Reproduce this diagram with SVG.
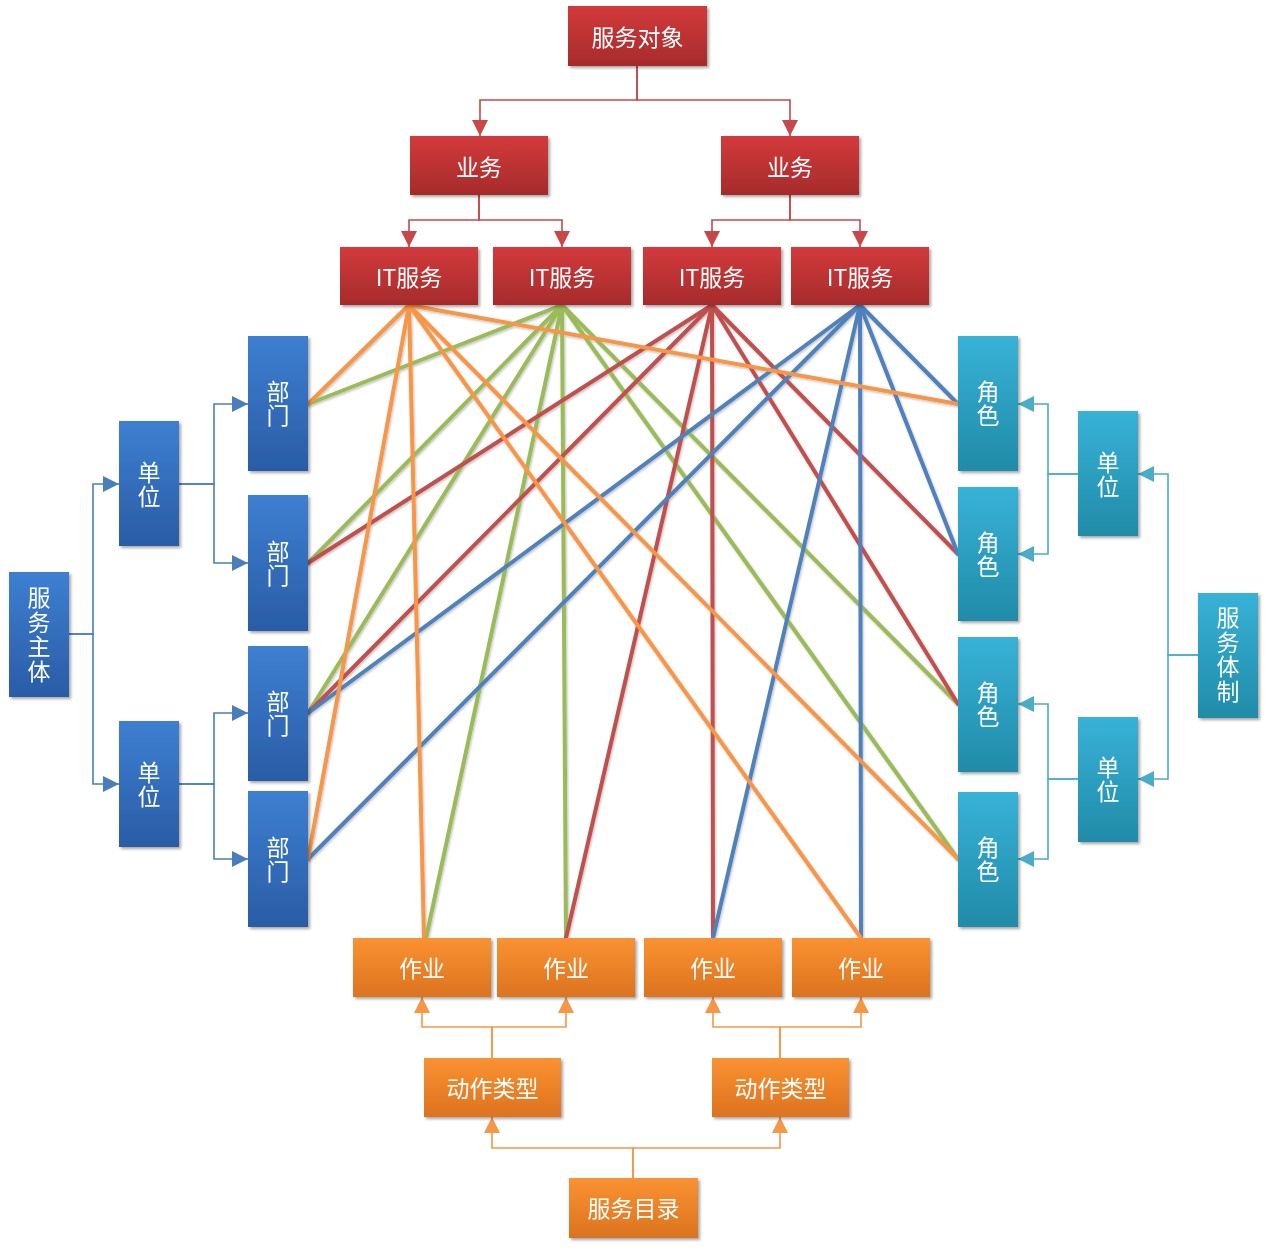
<svg xmlns="http://www.w3.org/2000/svg" width="1267" height="1249" viewBox="0 0 1267 1249">
<style>
.t{font-family:"Noto Sans CJK SC","Liberation Sans",sans-serif;font-size:23px;fill:#fff;text-anchor:middle;dominant-baseline:central}
.v{writing-mode:vertical-rl;text-orientation:upright;letter-spacing:1.5px}
.cr{fill:none;stroke:#c8484a;stroke-width:1.6}
.cb{fill:none;stroke:#4a7ebb;stroke-width:1.6}
.ct{fill:none;stroke:#4bacc6;stroke-width:1.6}
.co{fill:none;stroke:#f79646;stroke-width:1.6}
.x{stroke-width:4;stroke-linecap:round;fill:none}
.xo{stroke:#f79646}.xg{stroke:#9bbb59}.xr{stroke:#c0504d}.xb{stroke:#4f81bd}
.red{fill:url(#gR)}.blue{fill:url(#gB)}.teal{fill:url(#gT)}.orng{fill:url(#gO)}
</style>
<defs>
<linearGradient id="gR" x1="0" y1="0" x2="0" y2="1"><stop offset="0" stop-color="#d33a3c"/><stop offset="1" stop-color="#a62b2b"/></linearGradient>
<linearGradient id="gB" x1="0" y1="0" x2="0" y2="1"><stop offset="0" stop-color="#3d7fd1"/><stop offset="1" stop-color="#2a5ca6"/></linearGradient>
<linearGradient id="gT" x1="0" y1="0" x2="0" y2="1"><stop offset="0" stop-color="#37b2d7"/><stop offset="1" stop-color="#218ba8"/></linearGradient>
<linearGradient id="gO" x1="0" y1="0" x2="0" y2="1"><stop offset="0" stop-color="#fa9232"/><stop offset="1" stop-color="#dc731f"/></linearGradient>
<filter id="sh" x="-10%" y="-10%" width="130%" height="130%"><feDropShadow dx="2" dy="2" stdDeviation="1.5" flood-color="#000" flood-opacity="0.35"/></filter>
<filter id="ls" x="-5%" y="-5%" width="110%" height="110%"><feDropShadow dx="1" dy="1.5" stdDeviation="1" flood-color="#000" flood-opacity="0.25"/></filter>
<marker id="aR" viewBox="0 0 10 10" refX="10" refY="5" markerWidth="16" markerHeight="16" markerUnits="userSpaceOnUse" orient="auto"><path d="M0,0L10,5L0,10z" fill="#c8484a"/></marker>
<marker id="aB" viewBox="0 0 10 10" refX="10" refY="5" markerWidth="16" markerHeight="16" markerUnits="userSpaceOnUse" orient="auto"><path d="M0,0L10,5L0,10z" fill="#4a7ebb"/></marker>
<marker id="aT" viewBox="0 0 10 10" refX="10" refY="5" markerWidth="16" markerHeight="16" markerUnits="userSpaceOnUse" orient="auto"><path d="M0,0L10,5L0,10z" fill="#4bacc6"/></marker>
<marker id="aO" viewBox="0 0 10 10" refX="10" refY="5" markerWidth="16" markerHeight="16" markerUnits="userSpaceOnUse" orient="auto"><path d="M0,0L10,5L0,10z" fill="#f79646"/></marker>
</defs>
<rect width="1267" height="1249" fill="#fff"/>
<g id="connectors">
<g marker-end="url(#aR)">
<path class="cr" d="M637,66V100H480V136"/><path class="cr" d="M637,66V100H790V136"/>
<path class="cr" d="M479,195V220H409V247"/><path class="cr" d="M479,195V220H562V247"/>
<path class="cr" d="M790,195V220H712V247"/><path class="cr" d="M790,195V220H860V247"/>
</g>
<g marker-end="url(#aB)">
<path class="cb" d="M69,634H93V484H119"/><path class="cb" d="M69,634H93V784H119"/>
<path class="cb" d="M179,484H214V404H248"/><path class="cb" d="M179,484H214V563H248"/>
<path class="cb" d="M179,784H214V713H248"/><path class="cb" d="M179,784H214V859H248"/>
</g>
<g marker-end="url(#aT)">
<path class="ct" d="M1198,655H1168V474H1138"/><path class="ct" d="M1198,655H1168V779H1138"/>
<path class="ct" d="M1078,474H1048V404H1018"/><path class="ct" d="M1078,474H1048V554H1018"/>
<path class="ct" d="M1078,779H1048V704H1018"/><path class="ct" d="M1078,779H1048V859H1018"/>
</g>
<g marker-end="url(#aO)">
<path class="co" d="M633,1178V1148H492V1117"/><path class="co" d="M633,1178V1148H780V1117"/>
<path class="co" d="M492,1058V1027H422V997"/><path class="co" d="M492,1058V1027H566V997"/>
<path class="co" d="M780,1058V1027H713V997"/><path class="co" d="M780,1058V1027H861V997"/>
</g>
<g filter="url(#ls)">
<g class="x xg">
<path d="M562,305L308,404"/><path d="M562,305L308,563"/><path d="M562,305L308,713"/>
<path d="M562,305L426,938"/><path d="M562,305L566,938"/><path d="M562,305L958,704"/><path d="M562,305L958,859"/>
</g>
<g class="x xr">
<path d="M712,305L308,563"/><path d="M712,305L308,713"/><path d="M712,305L566,938"/>
<path d="M712,305L713,938"/><path d="M712,305L958,554"/><path d="M712,305L958,704"/>
</g>
<g class="x xb">
<path d="M860,305L308,713"/><path d="M860,305L308,859"/><path d="M860,305L713,938"/>
<path d="M860,305L861,938"/><path d="M860,305L958,404"/><path d="M860,305L958,554"/>
</g>
<g class="x xo">
<path d="M409,305L308,404"/><path d="M409,305L308,859"/><path d="M409,305L424,938"/>
<path d="M409,305L861,938"/><path d="M409,305L958,859"/><path d="M409,305L958,404"/>
</g>
</g>
</g>
<g id="n-fwdx" filter="url(#sh)"><rect class="red" x="568" y="6" width="139" height="60"/><text class="t" x="637.5" y="36">服务对象</text></g>
<g id="n-yw1" filter="url(#sh)"><rect class="red" x="410" y="136" width="138" height="59"/><text class="t" x="479" y="166">业务</text></g>
<g id="n-yw2" filter="url(#sh)"><rect class="red" x="721" y="136" width="138" height="59"/><text class="t" x="790" y="166">业务</text></g>
<g id="n-it1" filter="url(#sh)"><rect class="red" x="340" y="247" width="138" height="58"/><text class="t" x="409" y="276">IT服务</text></g>
<g id="n-it2" filter="url(#sh)"><rect class="red" x="493" y="247" width="138" height="58"/><text class="t" x="562" y="276">IT服务</text></g>
<g id="n-it3" filter="url(#sh)"><rect class="red" x="643" y="247" width="138" height="58"/><text class="t" x="712" y="276">IT服务</text></g>
<g id="n-it4" filter="url(#sh)"><rect class="red" x="791" y="247" width="138" height="58"/><text class="t" x="860" y="276">IT服务</text></g>
<g id="n-fwzt" filter="url(#sh)"><rect class="blue" x="9" y="572" width="60" height="125"/><text class="t v" x="39" y="635">服务主体</text></g>
<g id="n-dw1" filter="url(#sh)"><rect class="blue" x="119" y="421" width="60" height="125"/><text class="t v" x="149" y="485">单位</text></g>
<g id="n-dw2" filter="url(#sh)"><rect class="blue" x="119" y="721" width="60" height="126"/><text class="t v" x="149" y="785">单位</text></g>
<g id="n-bm1" filter="url(#sh)"><rect class="blue" x="248" y="336" width="60" height="135"/><text class="t v" x="278" y="404">部门</text></g>
<g id="n-bm2" filter="url(#sh)"><rect class="blue" x="248" y="495" width="60" height="136"/><text class="t v" x="278" y="564">部门</text></g>
<g id="n-bm3" filter="url(#sh)"><rect class="blue" x="248" y="646" width="60" height="135"/><text class="t v" x="278" y="714">部门</text></g>
<g id="n-bm4" filter="url(#sh)"><rect class="blue" x="248" y="791" width="60" height="136"/><text class="t v" x="278" y="860">部门</text></g>
<g id="n-js1" filter="url(#sh)"><rect class="teal" x="958" y="336" width="60" height="135"/><text class="t v" x="988" y="404">角色</text></g>
<g id="n-js2" filter="url(#sh)"><rect class="teal" x="958" y="487" width="60" height="134"/><text class="t v" x="988" y="555">角色</text></g>
<g id="n-js3" filter="url(#sh)"><rect class="teal" x="958" y="637" width="60" height="135"/><text class="t v" x="988" y="705">角色</text></g>
<g id="n-js4" filter="url(#sh)"><rect class="teal" x="958" y="792" width="60" height="135"/><text class="t v" x="988" y="860">角色</text></g>
<g id="n-dw3" filter="url(#sh)"><rect class="teal" x="1078" y="411" width="60" height="125"/><text class="t v" x="1108" y="475">单位</text></g>
<g id="n-dw4" filter="url(#sh)"><rect class="teal" x="1078" y="717" width="60" height="125"/><text class="t v" x="1108" y="780">单位</text></g>
<g id="n-fwtz" filter="url(#sh)"><rect class="teal" x="1198" y="593" width="60" height="125"/><text class="t v" x="1228" y="655">服务体制</text></g>
<g id="n-zy1" filter="url(#sh)"><rect class="orng" x="353" y="938" width="138" height="59"/><text class="t" x="422" y="967">作业</text></g>
<g id="n-zy2" filter="url(#sh)"><rect class="orng" x="497" y="938" width="138" height="59"/><text class="t" x="566" y="967">作业</text></g>
<g id="n-zy3" filter="url(#sh)"><rect class="orng" x="644" y="938" width="138" height="59"/><text class="t" x="713" y="967">作业</text></g>
<g id="n-zy4" filter="url(#sh)"><rect class="orng" x="792" y="938" width="138" height="59"/><text class="t" x="861" y="967">作业</text></g>
<g id="n-dzlx1" filter="url(#sh)"><rect class="orng" x="424" y="1058" width="137" height="59"/><text class="t" x="492.5" y="1087">动作类型</text></g>
<g id="n-dzlx2" filter="url(#sh)"><rect class="orng" x="712" y="1058" width="137" height="59"/><text class="t" x="780.5" y="1087">动作类型</text></g>
<g id="n-fwml" filter="url(#sh)"><rect class="orng" x="569" y="1178" width="129" height="60"/><text class="t" x="633.5" y="1207">服务目录</text></g>
</svg>
